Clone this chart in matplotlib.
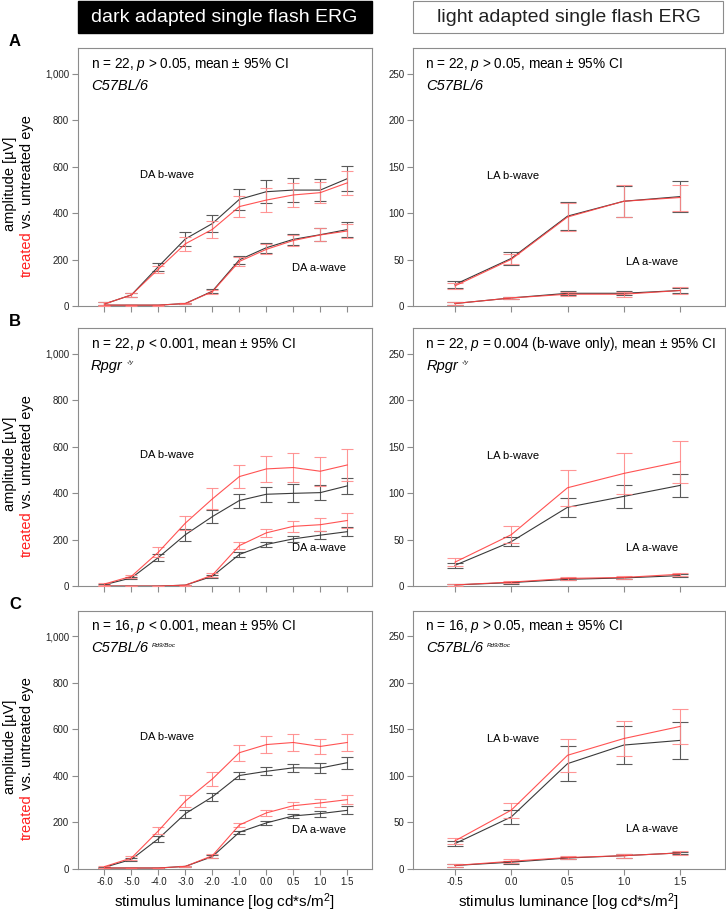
import matplotlib.pyplot as plt
from matplotlib.patches import Rectangle
import numpy as np

plt.rcParams['font.family'] = ['Liberation Sans', 'DejaVu Sans']
plt.rcParams['mathtext.fontset'] = 'custom'
plt.rcParams['mathtext.rm'] = 'Liberation Sans'
plt.rcParams['mathtext.it'] = 'Liberation Sans:italic'

# x values
da_lum = [-6.0, -5.0, -4.0, -3.0, -2.0, -1.0, 0.0, 0.5, 1.0, 1.5]
la_lum = [-0.5, 0.0, 0.5, 1.0, 1.5]

# Row A, C57BL/6 - dark adapted
a_da_b_untr = [10, 49, 171, 290, 356, 460, 493, 500, 500, 549]
a_da_b_untr_ci = [8, 10, 17, 30, 35, 45, 50, 52, 47, 55]
a_da_b_tr = [10, 49, 160, 269, 331, 429, 457, 479, 489, 531]
a_da_b_tr_ci = [7, 9, 15, 30, 35, 45, 50, 50, 45, 52]
a_da_a_untr = [5, 5, 5, 12, 65, 200, 252, 288, 308, 330]
a_da_a_untr_ci = [2, 2, 2, 3, 8, 18, 22, 24, 28, 32]
a_da_a_tr = [5, 5, 5, 12, 63, 193, 245, 283, 307, 324]
a_da_a_tr_ci = [2, 2, 2, 3, 8, 18, 22, 25, 28, 30]
# Row A - light adapted
a_la_b_untr = [23.5, 51.5, 97, 113, 118]
a_la_b_untr_ci = [4, 7, 15, 16.5, 16.5]
a_la_b_tr = [22, 50.5, 96, 113, 117]
a_la_b_tr_ci = [3, 5.5, 15, 17, 14]
a_la_a_untr = [3, 9, 14, 14, 17]
a_la_a_untr_ci = [1.5, 1.2, 2, 2, 2.5]
a_la_a_tr = [3, 9, 13, 13, 17]
a_la_a_tr_ci = [1.5, 1.2, 2, 2.5, 3.5]

# Row B, Rpgr -/y - dark adapted
b_da_b_untr = [7, 36, 124, 222, 300, 369, 396, 400, 403, 432]
b_da_b_untr_ci = [5, 6, 15, 25, 28, 30, 33, 38, 32, 35]
b_da_b_tr = [10, 43, 147, 272, 376, 472, 505, 511, 495, 522]
b_da_b_tr_ci = [6, 6, 20, 30, 45, 48, 55, 62, 62, 68]
b_da_a_untr = [1, 1, 1, 5, 43, 137, 180, 204, 220, 235]
b_da_a_untr_ci = [1, 1, 1, 2, 6, 10, 12, 14, 17, 20]
b_da_a_tr = [1, 1, 1, 5, 48, 175, 230, 258, 265, 283]
b_da_a_tr_ci = [1, 1, 1, 2, 8, 15, 18, 24, 29, 32]
# Row B - light adapted
b_la_b_untr = [22.6, 48, 85, 96.7, 108.5]
b_la_b_untr_ci = [2.5, 5, 10, 12, 12]
b_la_b_tr = [26, 55.5, 106, 121.4, 134]
b_la_b_tr_ci = [4, 9, 19.5, 22, 22.5]
b_la_a_untr = [1.5, 4, 7.5, 9, 11.5]
b_la_a_untr_ci = [1.5, 1, 1, 1.5, 1.5]
b_la_a_tr = [1.5, 4.5, 8.5, 9.5, 13]
b_la_a_tr_ci = [1.5, 1, 1.5, 1.5, 1.5]

# Row C, C57BL/6 Rd9/Boc - dark adapted
c_da_b_untr = [6, 40, 129, 237, 309, 401, 419, 434, 433, 456]
c_da_b_untr_ci = [3, 6, 12, 17, 17, 15, 18, 18, 22, 25]
c_da_b_tr = [9, 46, 163, 291, 386, 499, 534, 543, 526, 543]
c_da_b_tr_ci = [4, 7, 15, 25, 30, 34, 37, 37, 33, 37]
c_da_a_untr = [3, 3, 3, 10, 52, 157, 197, 227, 237, 251]
c_da_a_untr_ci = [1, 1, 1, 2, 5, 7, 8, 10, 13, 17]
c_da_a_tr = [3, 3, 3, 10, 56, 188, 240, 271, 283, 297]
c_da_a_tr_ci = [1, 1, 1, 2, 8, 10, 12, 14, 18, 18]
# Row C - light adapted
c_la_b_untr = [27, 55.7, 113, 133, 138]
c_la_b_untr_ci = [3, 7.5, 19, 20, 20]
c_la_b_tr = [30, 63, 122, 140, 153]
c_la_b_tr_ci = [3, 8, 17.5, 19, 18.5]
c_la_a_untr = [3.5, 7, 11.5, 14, 17]
c_la_a_untr_ci = [1.5, 1.5, 1.5, 2, 1.5]
c_la_a_tr = [3.5, 8, 12, 14, 17]
c_la_a_tr_ci = [1.5, 2, 2, 2, 2.5]

panel_letters = ['A', 'B', 'C']
stats_da = ['n = 22, $p$ > 0.05, mean ± 95% CI',
            'n = 22, $p$ < 0.001, mean ± 95% CI',
            'n = 16, $p$ < 0.001, mean ± 95% CI']
stats_la = ['n = 22, $p$ > 0.05, mean ± 95% CI',
            'n = 22, $p$ = 0.004 (b-wave only), mean ± 95% CI',
            'n = 16, $p$ > 0.05, mean ± 95% CI']
strains = ['C57BL/6', 'Rpgr', 'C57BL/6']
strain_sups = ['', '-/y', 'Rd9/Boc']

da_rows = [
    (a_da_b_untr, a_da_b_untr_ci, a_da_b_tr, a_da_b_tr_ci, a_da_a_untr, a_da_a_untr_ci, a_da_a_tr, a_da_a_tr_ci),
    (b_da_b_untr, b_da_b_untr_ci, b_da_b_tr, b_da_b_tr_ci, b_da_a_untr, b_da_a_untr_ci, b_da_a_tr, b_da_a_tr_ci),
    (c_da_b_untr, c_da_b_untr_ci, c_da_b_tr, c_da_b_tr_ci, c_da_a_untr, c_da_a_untr_ci, c_da_a_tr, c_da_a_tr_ci),
]
la_rows = [
    (a_la_b_untr, a_la_b_untr_ci, a_la_b_tr, a_la_b_tr_ci, a_la_a_untr, a_la_a_untr_ci, a_la_a_tr, a_la_a_tr_ci),
    (b_la_b_untr, b_la_b_untr_ci, b_la_b_tr, b_la_b_tr_ci, b_la_a_untr, b_la_a_untr_ci, b_la_a_tr, b_la_a_tr_ci),
    (c_la_b_untr, c_la_b_untr_ci, c_la_b_tr, c_la_b_tr_ci, c_la_a_untr, c_la_a_untr_ci, c_la_a_tr, c_la_a_tr_ci),
]

W, H = 726, 911
fig = plt.figure(figsize=(W / 100, H / 100), dpi=100)


def fx(px):
    return px / W


def fy(py):
    return 1 - py / H


RED = '#ff4040'
RED_BAR = '#ff8a8a'
BLACK = '#3a3a3a'
BLACK_BAR = '#5a5a5a'
FRAME = '#8c8c8c'

row_tops = [48.3, 328.3, 610.7]
row_h = 258.0
left_x, left_w = 77.5, 294.0
right_x, right_w = 412.7, 311.8
la_a_label_y = [48, 41, 43]


def style_axes(ax):
    for s in ax.spines.values():
        s.set_color(FRAME)
        s.set_linewidth(0.8)
    ax.tick_params(direction='out', length=4, width=0.8, color=FRAME,
                   labelcolor='#222222', labelsize=7, pad=2)


def draw_series(ax, x, vals, capsize):
    b_u, b_u_ci, b_t, b_t_ci, a_u, a_u_ci, a_t, a_t_ci = vals
    for y, ci in [(b_u, b_u_ci), (a_u, a_u_ci)]:
        ax.errorbar(x, y, yerr=ci, color=BLACK, ecolor=BLACK_BAR, lw=0.8,
                    elinewidth=0.8, capsize=capsize, capthick=0.8, zorder=2)
    for y, ci in [(b_t, b_t_ci), (a_t, a_t_ci)]:
        ax.errorbar(x, y, yerr=ci, color=RED, ecolor=RED_BAR, lw=0.8,
                    elinewidth=0.8, capsize=capsize, capthick=0.8, zorder=3,
                    alpha=0.9)


def strain_text(ax, xa, ya, name, sup):
    t = ax.text(xa, ya, name, transform=ax.transAxes, fontsize=10.5,
                style='italic', ha='left', va='center')
    if sup:
        ax.annotate(sup, xy=(1, 1), xycoords=t, xytext=(2.5, -1),
                    textcoords='offset points', fontsize=4.5, style='italic',
                    ha='left', va='top')


da_pos = np.arange(len(da_lum))

for i in range(3):
    top = row_tops[i]
    bottom_frac = fy(top + row_h)
    h_frac = row_h / H

    # dark adapted
    ax = fig.add_axes([fx(left_x), bottom_frac, left_w / W, h_frac])
    draw_series(ax, da_pos, da_rows[i], 4.2)
    ax.set_xlim(-1, 9.9)
    ax.set_ylim(0, 1110)
    ax.set_xticks(da_pos)
    yt = [0, 200, 400, 600, 800, 1000]
    ax.set_yticks(yt)
    ax.set_yticklabels([f'{v:,}' for v in yt])
    style_axes(ax)
    if i == 2:
        ax.set_xticklabels([f'{v:.1f}' for v in da_lum])
        ax.set_xlabel('stimulus luminance [log cd*s/m$^2$]', fontsize=11,
                      labelpad=3)
    else:
        ax.set_xticklabels([])
    ax.text(0.046, 0.939, stats_da[i], transform=ax.transAxes, fontsize=9.8,
            ha='left', va='center')
    strain_text(ax, 0.046, 0.854, strains[i], strain_sups[i])
    ax.text(1.3, 565, 'DA b-wave', fontsize=8, ha='left', va='center')
    ax.text(6.94, 165, 'DA a-wave', fontsize=8, ha='left', va='center')

    # light adapted
    ax2 = fig.add_axes([fx(right_x), bottom_frac, right_w / W, h_frac])
    draw_series(ax2, la_lum, la_rows[i], 5.8)
    ax2.set_xlim(-0.876, 1.895)
    ax2.set_ylim(0, 277.5)
    ax2.set_xticks(la_lum)
    ax2.set_yticks([0, 50, 100, 150, 200, 250])
    style_axes(ax2)
    if i == 2:
        ax2.set_xticklabels([f'{v:.1f}' for v in la_lum])
        ax2.set_xlabel('stimulus luminance [log cd*s/m$^2$]', fontsize=11,
                       labelpad=3)
    else:
        ax2.set_xticklabels([])
    ax2.text(0.04, 0.939, stats_la[i], transform=ax2.transAxes, fontsize=9.8,
             ha='left', va='center')
    strain_text(ax2, 0.043, 0.854, strains[i], strain_sups[i])
    ax2.text(-0.22, 140, 'LA b-wave', fontsize=8, ha='left', va='center')
    ax2.text(1.02, la_a_label_y[i], 'LA a-wave', fontsize=8, ha='left',
             va='center')

    # panel letter
    fig.text(fx(15), fy(top - 6.6), panel_letters[i], fontsize=12,
             fontweight='bold', ha='center', va='center')

    # y label: two lines, "treated" in red
    mid = top + row_h / 2 + 7
    fig.text(fx(10), fy(mid), 'amplitude [µV]', rotation=90, fontsize=10.5,
             ha='center', va='center')
    t1 = fig.text(fx(31), fy(mid + 93), 'treated', rotation=90,
                  rotation_mode='anchor', ha='left', va='baseline',
                  fontsize=10.5, color='#ff2020')
    ax.annotate(' vs. untreated eye', xy=(fx(31), 1),
                xycoords=('figure fraction', t1), rotation=90,
                rotation_mode='anchor', ha='left', va='baseline',
                fontsize=10.5, color='black', annotation_clip=False)

# header boxes
fig.patches.append(Rectangle((fx(left_x), fy(33)), left_w / W, 32 / H,
                             transform=fig.transFigure, facecolor='black',
                             edgecolor='black'))
fig.text(fx(left_x + left_w / 2), fy(17), 'dark adapted single flash ERG',
         color='white', fontsize=14, ha='center', va='center')
fig.patches.append(Rectangle((fx(right_x), fy(33)), (right_w - 1) / W, 32 / H,
                             transform=fig.transFigure, facecolor='white',
                             edgecolor=FRAME, linewidth=0.8))
fig.text(fx(right_x + right_w / 2), fy(17), 'light adapted single flash ERG',
         color='#222222', fontsize=14, ha='center', va='center')

fig.savefig('out.png', dpi=100)
